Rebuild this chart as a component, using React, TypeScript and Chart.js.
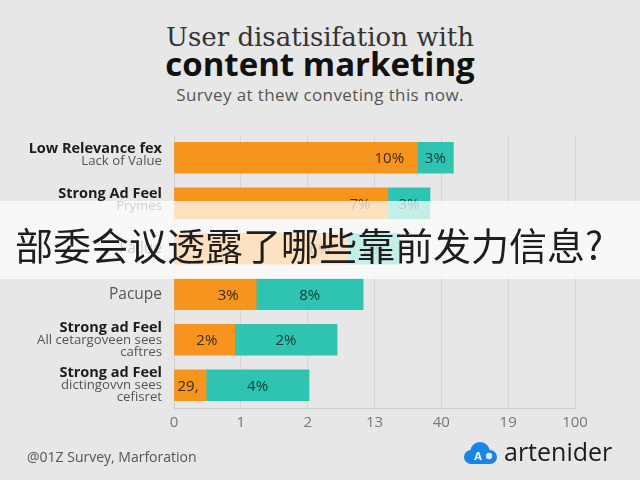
import React, { useEffect, useRef } from "react";
import { Chart, registerables } from "chart.js";

Chart.register(...registerables);

// ---- data ----
const categories = ["Low Relevance", "Strong Ad Feel", "Failue", "Pacupe", "Strong ad Feel 2", "Strong ad Feel 3"];
const labelMain = ["Low Relevance fex", "Strong Ad Feel", "", "", "Strong ad Feel", "Strong ad Feel"];
const labelSub = [["Lack of Value"], ["Prymes"], ["Failue"], ["Pacupe"], ["All cetargoveen sees", "caftres"], ["dictingovvn sees", "cefisret"]];
const orangeValues = [3.64, 3.2, 2.6, 1.23, 0.91, 0.48];
const tealValues = [0.54, 0.63, 0.78, 1.6, 1.53, 1.54];
const orangeText = ["10%", "7%", "6%", "3%", "2%", "29,"];
const tealText = ["3%", "3%", "2%", "8%", "2%", "4%"];
const xTickLabels = ["0", "1", "2", "13", "40", "19", "100"];

const ORANGE = "#f7941d";
const TEAL = "#2ec4b1";
const BG = "#e7e7e7";

const labelPlugin = {
  id: "customLabels",
  afterDatasetsDraw(chart: any) {
    const ctx = chart.ctx;
    ctx.save();
    ctx.font = "15px 'Open Sans'";
    ctx.textBaseline = "middle";
    ctx.textAlign = "center";
    const m0 = chart.getDatasetMeta(0);
    const m1 = chart.getDatasetMeta(1);
    m0.data.forEach((bar: any, i: number) => {
      const t = orangeText[i];
      const w = ctx.measureText(t).width;
      let cx = bar.x - 28;
      const minX = bar.base + w / 2 + 3;
      if (cx < minX) cx = minX;
      ctx.fillStyle = "#3b2a12";
      ctx.fillText(t, cx, bar.y + 1);
    });
    m1.data.forEach((bar: any, i: number) => {
      const t = tealText[i];
      ctx.fillStyle = "#143a36";
      ctx.fillText(t, (bar.x + bar.base) / 2, bar.y + 1);
    });
    ctx.restore();
  },
  afterDraw(chart: any) {
    const ctx = chart.ctx;
    const y = chart.scales.y;
    ctx.save();
    ctx.textAlign = "right";
    ctx.textBaseline = "middle";
    const right = 162;
    categories.forEach((_c, i) => {
      const cy = y.getPixelForValue(i);
      const lines: { t: string; bold: boolean }[] = [];
      if (labelMain[i]) lines.push({ t: labelMain[i], bold: true });
      labelSub[i].forEach((s) => lines.push({ t: s, bold: false }));
      const lh = 12;
      const start = cy - ((lines.length - 1) * lh) / 2 - (lines.length === 2 ? 3 : 0);
      lines.forEach((ln, k) => {
        if (ln.bold) {
          ctx.font = "bold 14.5px 'Open Sans'";
          ctx.fillStyle = "#1c1c1c";
        } else if (lines.length === 1) {
          ctx.font = "15.5px 'Open Sans'";
          ctx.fillStyle = "#555";
        } else {
          ctx.font = "13.2px 'Open Sans'";
          ctx.fillStyle = "#555";
        }
        ctx.fillText(ln.t, right, start + k * lh);
      });
    });
    ctx.restore();
  },
};

function ChartCanvas() {
  const ref = useRef<HTMLCanvasElement | null>(null);
  useEffect(() => {
    if (!ref.current) return;
    const chart = new Chart(ref.current, {
      type: "bar",
      data: {
        labels: categories,
        datasets: [
          { data: orangeValues, backgroundColor: ORANGE, borderWidth: 0, barThickness: 31 },
          { data: tealValues, backgroundColor: TEAL, borderWidth: 0, barThickness: 31 },
        ],
      },
      options: {
        indexAxis: "y",
        animation: false,
        responsive: false,
        devicePixelRatio: 1,
        layout: { padding: { left: 174, right: 65, top: 135, bottom: 42 } },
        plugins: { legend: { display: false }, tooltip: { enabled: false } },
        scales: {
          x: {
            type: "linear",
            stacked: true,
            min: 0,
            max: 6,
            afterFit: (s: any) => {
              s.height = 30;
            },
            ticks: {
              stepSize: 1,
              padding: 6,
              color: "#777",
              font: { family: "'Open Sans'", size: 15 },
              callback: (_v: any, idx: number) => xTickLabels[idx],
            },
            grid: { color: "#d6d6d6", drawTicks: false, lineWidth: 1 },
            border: { display: true, color: "#cfcfcf", width: 1 },
          },
          y: {
            type: "category",
            stacked: true,
            afterFit: (s: any) => {
              s.width = 0;
            },
            ticks: { display: false },
            grid: { color: "transparent", drawTicks: false },
            border: { display: true, color: "#cfcfcf", width: 1 },
          },
        },
      },
      plugins: [labelPlugin],
    });
    return () => chart.destroy();
  }, []);
  return <canvas ref={ref} width={640} height={480} style={{ position: "absolute", left: 0, top: 0, width: 640, height: 480 }} />;
}

export default function App() {
  return (
    <div style={{ position: "absolute", left: 0, top: 0, width: 640, height: 480, background: BG, overflow: "hidden" }}>
      <div style={{ position: "absolute", left: 0, top: 21, width: 640, textAlign: "center", font: "26px 'DejaVu Serif'", lineHeight: "32px", color: "#333", whiteSpace: "nowrap" }}>
        User disatisifation with
      </div>
      <div style={{ position: "absolute", left: 0, top: 44, width: 640, textAlign: "center", font: "bold 33px 'Open Sans'", lineHeight: "40px", color: "#111", whiteSpace: "nowrap" }}>
        content marketing
      </div>
      <div style={{ position: "absolute", left: 0, top: 84, width: 640, textAlign: "center", font: "17px 'Open Sans'", letterSpacing: "0.4px", lineHeight: "22px", color: "#555", whiteSpace: "nowrap" }}>
        Survey at thew conveting this now.
      </div>
      <ChartCanvas />
      <div style={{ position: "absolute", left: 0, top: 201, width: 640, height: 78, background: "rgba(255,255,255,0.72)" }} />
      <div style={{ position: "absolute", left: 15, top: 218, whiteSpace: "nowrap", font: "38px 'Noto Sans CJK SC'", lineHeight: "52px", color: "#1e1e1e" }}>
        部委会议透露了哪些靠前发力信息?
      </div>
      <div style={{ position: "absolute", left: 27, top: 447, font: "14px 'Open Sans'", lineHeight: "20px", color: "#555", whiteSpace: "nowrap" }}>
        @01Z Survey, Marforation
      </div>
      <svg width={36} height={30} viewBox="0 0 36 30" style={{ position: "absolute", left: 463, top: 440 }}>
        <g fill="#1a86e3">
          <circle cx={17} cy={12} r={10} />
          <circle cx={8} cy={17} r={7} />
          <circle cx={27} cy={17} r={7} />
          <rect x={8} y={14} width={19} height={10} />
        </g>
        <text x={15} y={20} fill="#fff" fontSize={11} fontFamily="'Open Sans'" fontWeight="bold" textAnchor="middle">A</text>
        <circle cx={26} cy={16} r={3.2} fill="#fff" opacity={0.85} />
      </svg>
      <div style={{ position: "absolute", left: 504, top: 436, font: "25px 'Open Sans'", lineHeight: "30px", color: "#1c1c1c", whiteSpace: "nowrap" }}>
        artenider
      </div>
    </div>
  );
}
